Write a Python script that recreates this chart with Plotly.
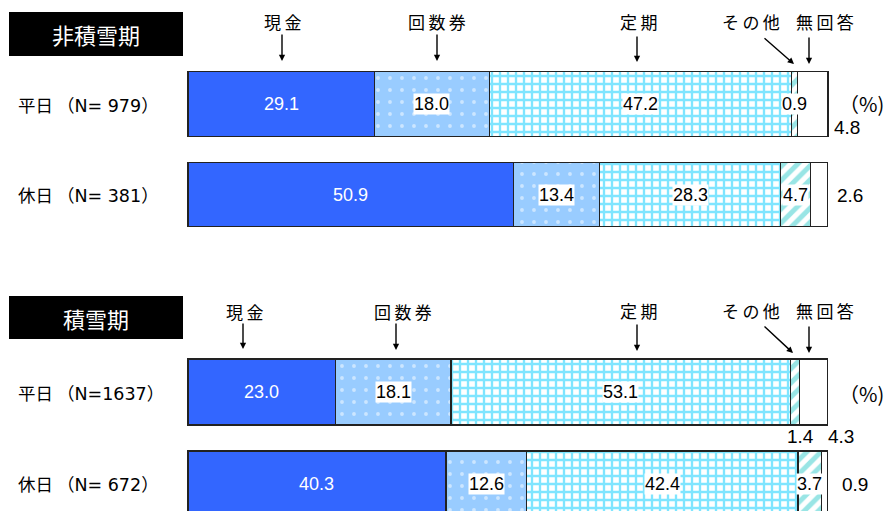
import plotly.graph_objects as go

# ---------------- data ----------------
categories = ["現金", "回数券", "定期", "その他", "無回答"]
row_days = ["平日", "休日", "平日", "休日"]
row_n = ["（N= 979）", "（N= 381）", "（N=1637）", "（N= 672）"]
panel_titles = ["非積雪期", "積雪期"]
cash = [29.1, 50.9, 23.0, 40.3]
kaisuken = [18.0, 13.4, 18.1, 12.6]
teiki = [47.2, 28.3, 53.1, 42.4]
sonota = [0.9, 4.7, 1.4, 3.7]
mukaito = [4.8, 2.6, 4.3, 0.9]
series = [cash, kaisuken, teiki, sonota, mukaito]

# ---------------- layout constants ----------------
W, H = 887, 511
X0, SCALE = 188, 6.4          # pixel of 0%, pixels per %
bar_y = [104, 194.5, 392, 483.5]
bar_h = [65, 64, 66, 65]

def X(px):
    return (px - X0) / SCALE

JP = "Noto Sans CJK JP, Noto Sans CJK SC, sans-serif"
NUM = "Liberation Sans Narrow, Arial Narrow, Liberation Sans, Arial, sans-serif"

styles = [
    dict(color="#3366FF"),
    dict(color="#99CCFF", pattern=dict(shape=".", fgcolor="white", bgcolor="#99CCFF",
                                       size=12, solidity=0.08, fillmode="overlay")),
    dict(color="white", pattern=dict(shape="+", fgcolor="#00CCFF", bgcolor="white",
                                     size=8, solidity=0.5, fillmode="overlay")),
    dict(color="white", pattern=dict(shape="/", fgcolor="#33CCCC", bgcolor="white",
                                     size=10, solidity=0.5, fillmode="overlay")),
    dict(color="white"),
]

fig = go.Figure()
for name, vals, st in zip(categories, series, styles):
    fig.add_trace(go.Bar(
        y=bar_y, x=vals, width=bar_h, orientation="h", name=name,
        marker=dict(line=dict(color="#222222", width=1.2), **st),
        hoverinfo="skip", showlegend=False,
    ))

ann = []

# panel title boxes (as shapes + text)
shapes = []
for title, (top, bot) in zip(panel_titles, [(12, 56), (296, 339)]):
    shapes.append(dict(type="rect", xref="x", yref="y", x0=X(9), x1=X(183), y0=top, y1=bot,
                       fillcolor="black", line=dict(width=0), layer="above"))
    ann.append(dict(x=X(96), y=(top + bot) / 2, text=title, showarrow=False,
                    font=dict(family=JP, size=22, color="white")))

# row labels
for day, n, y in zip(row_days, row_n, bar_y):
    lab = f'{day} <span style="font-family:DejaVu Sans, Noto Sans CJK JP">{n}</span>'
    ann.append(dict(x=X(16), y=y, text=lab, xanchor="left", showarrow=False,
                    font=dict(family=JP, size=17.5, color="black")))

# header labels with arrows for each panel
headers = [
    # (text, text_x, text_y, tail_x, tail_y, head_x, head_y)
    [("現\u2009金", 282, 21, 282, 33, 282, 61),
     ("回\u2009数\u2009券", 437, 21, 437, 33, 437, 61),
     ("定\u2009期", 638, 21, 637, 35, 637, 62),
     ("そ\u2009の\u2009他", 751, 21, 763, 37, 794, 64),
     ("無\u2009回\u2009答", 825, 21, 809, 36, 809, 64)],
    [("現\u2009金", 244, 311, 243, 322, 243, 349),
     ("回\u2009数\u2009券", 403, 311, 396, 322, 396, 350),
     ("定\u2009期", 638, 310, 637, 323, 637, 351),
     ("そ\u2009の\u2009他", 751, 310, 763, 325, 793, 353),
     ("無\u2009回\u2009答", 825, 310, 809, 325, 809, 353)],
]
for panel in headers:
    for txt, tx, ty, ax_, ay_, hx, hy in panel:
        ann.append(dict(x=X(tx), y=ty, text=txt, showarrow=False,
                        font=dict(family=JP, size=17, color="black")))
        ann.append(dict(x=X(hx), y=hy, ax=X(ax_), ay=ay_, axref="x", ayref="y",
                        text="", showarrow=True, arrowhead=2, arrowsize=0.9,
                        arrowwidth=1.4, arrowcolor="black"))

# value labels
special = {
    (0, 4): (832, 127, "left"),
    (1, 4): (835, 195, "left"),
    (2, 3): (800, 436, "center"),
    (2, 4): (826, 436, "left"),
    (3, 4): (840, 484, "left"),
}
for i in range(4):
    cum = 0.0
    for c, vals in enumerate(series):
        v = vals[i]
        txt = f"{v:.1f}"
        if (i, c) in special:
            px, py, anc = special[(i, c)]
            ann.append(dict(x=X(px), y=py, text=txt, xanchor=anc, showarrow=False,
                            font=dict(family=NUM, size=19, color="black")))
        else:
            xc = cum + v / 2
            if c == 0:
                ann.append(dict(x=xc, y=bar_y[i], text=txt, showarrow=False,
                                font=dict(family=NUM, size=18, color="white")))
            else:
                ann.append(dict(x=xc, y=bar_y[i], text=txt, showarrow=False,
                                bgcolor="white", borderpad=0,
                                font=dict(family=NUM, size=18, color="black")))
        cum += v

# (%) labels
for y in [103, 393]:
    ann.append(dict(x=X(886), y=y, text="（%)", xanchor="right", showarrow=False,
                    font=dict(family=JP, size=20, color="black")))

fig.update_layout(
    width=W, height=H, barmode="stack",
    margin=dict(l=0, r=0, t=0, b=0),
    paper_bgcolor="white", plot_bgcolor="white",
    xaxis=dict(range=[X(0), X(W)], visible=False, fixedrange=True),
    yaxis=dict(range=[H, 0], visible=False, fixedrange=True),
    annotations=ann, shapes=shapes, showlegend=False,
)

fig.write_html("out.html")
